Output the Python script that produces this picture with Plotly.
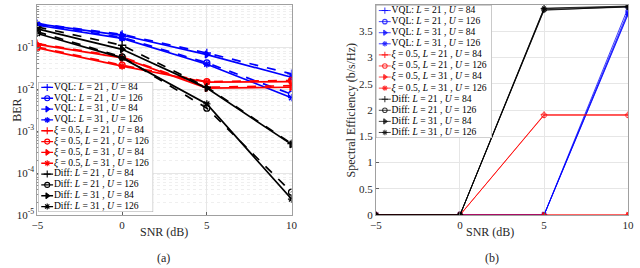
import plotly.graph_objects as go

snr = [-5, 0, 5, 10]

labels = [
    "VQL: <i>L</i> = 21 , <i>U</i> = 84",
    "VQL: <i>L</i> = 21 , <i>U</i> = 126",
    "VQL: <i>L</i> = 31 , <i>U</i> = 84",
    "VQL: <i>L</i> = 31 , <i>U</i> = 126",
    "<i>ξ</i> = 0.5, <i>L</i> = 21 , <i>U</i> = 84",
    "<i>ξ</i> = 0.5, <i>L</i> = 21 , <i>U</i> = 126",
    "<i>ξ</i> = 0.5, <i>L</i> = 31 , <i>U</i> = 84",
    "<i>ξ</i> = 0.5, <i>L</i> = 31 , <i>U</i> = 126",
    "Diff: <i>L</i> = 21 , <i>U</i> = 84",
    "Diff: <i>L</i> = 21 , <i>U</i> = 126",
    "Diff: <i>L</i> = 31 , <i>U</i> = 84",
    "Diff: <i>L</i> = 31 , <i>U</i> = 126",
]

# (a) BER
ber_vql = [
    [0.36, 0.20, 0.072, 0.023],
    [0.34, 0.17, 0.042, 0.0075],
    [0.355, 0.19, 0.066, 0.019],
    [0.33, 0.16, 0.039, 0.0062],
]
ber_xi = [
    [0.12, 0.058, 0.011, 0.012],
    [0.10, 0.037, 0.015, 0.016],
    [0.115, 0.055, 0.0105, 0.011],
    [0.095, 0.035, 0.0145, 0.015],
]
ber_diff = [
    [0.30, 0.11, 0.011, 0.0005],
    [0.23, 0.058, 0.0035, 0.000035],
    [0.27, 0.088, 0.0105, 0.00048],
    [0.21, 0.055, 0.0044, 0.000024],
]

# (b) Spectral efficiency
se_vql = [
    [0, 0, 0, 3.95],
    [0, 0, 0, 3.88],
    [0, 0, 0, 3.84],
    [0, 0, 0, 3.82],
]
se_xi = [
    [0, 0, 1.91, 1.91],
    [0, 0, 1.90, 1.90],
    [0, 0, 0, 0],
    [0, 0, 0, 0],
]
se_diff = [
    [0, 0, 3.93, 3.97],
    [0, 0, 3.91, 3.96],
    [0, 0, 3.90, 3.97],
    [0, 0, 3.94, 3.98],
]

colors = ["#0000ff"] * 4 + ["#ff0000"] * 4 + ["#000000"] * 4
symbols = ["cross-thin-open", "circle-open", "triangle-right", "asterisk-open"] * 3
dashes = ["dash", "dash", "solid", "solid"] * 3

FONT = "Liberation Serif"
TXT = "#262626"
GRID = "#e6e6e6"
FRAME = "#a0a0a0"

fig = go.Figure()

ber_all = ber_vql + ber_xi + ber_diff
se_all = se_vql + se_xi + se_diff

for i, yv in enumerate(ber_all):
    fig.add_trace(go.Scatter(
        x=snr, y=yv, mode="lines+markers", xaxis="x", yaxis="y",
        line=dict(color=colors[i], width=1.7, dash=dashes[i]),
        marker=dict(symbol=symbols[i], size=6, color=colors[i],
                    line=dict(color=colors[i], width=1.3)),
        showlegend=False, hoverinfo="skip"))

for i, yv in enumerate(se_all):
    fig.add_trace(go.Scatter(
        x=snr, y=yv, mode="lines+markers", xaxis="x2", yaxis="y2",
        opacity=0.75,
        line=dict(color=colors[i], width=1),
        marker=dict(symbol=symbols[i], size=5, color=colors[i],
                    line=dict(color=colors[i], width=1)),
        showlegend=False, hoverinfo="skip"))


def add_legend(xa, ya, line_w, msize, opacity):
    n = len(labels)
    fig.add_trace(go.Scatter(
        x=[0, 1, 1, 0, 0], y=[-0.5, -0.5, n - 0.5, n - 0.5, -0.5],
        mode="lines", fill="toself", fillcolor="white",
        line=dict(color=FRAME, width=1), xaxis=xa, yaxis=ya,
        showlegend=False, hoverinfo="skip"))
    for i in range(n):
        fig.add_trace(go.Scatter(
            x=[0.025, 0.128], y=[i, i], mode="lines",
            xaxis=xa, yaxis=ya, opacity=opacity,
            line=dict(color=colors[i], width=line_w),
            showlegend=False, hoverinfo="skip"))
        fig.add_trace(go.Scatter(
            x=[0.077], y=[i], mode="markers",
            xaxis=xa, yaxis=ya, opacity=opacity,
            marker=dict(symbol=symbols[i], size=msize, color=colors[i],
                        line=dict(color=colors[i], width=1.1)),
            showlegend=False, hoverinfo="skip"))
    fig.add_trace(go.Scatter(
        x=[0.135] * n, y=list(range(n)), mode="text", text=labels,
        textposition="middle right", xaxis=xa, yaxis=ya, cliponaxis=False,
        textfont=dict(family=FONT, size=9.6, color="#000000"),
        showlegend=False, hoverinfo="skip"))


add_legend("x3", "y3", 1.3, 5, 1.0)
add_legend("x4", "y4", 1.0, 4.5, 0.75)

W, H = 640, 268
top, bot = 5, 215
ph = bot - top


def px_x(p):
    return p / W


def px_y(p):
    return (bot - p) / ph


axis_common = dict(
    showline=True, mirror=True, linecolor=FRAME, linewidth=1,
    ticks="inside", ticklen=3, tickcolor="#606060",
    tickfont=dict(family=FONT, size=11, color=TXT),
    showgrid=True, gridcolor=GRID, zeroline=False,
)

exps = [-5, -4, -3, -2, -1, 0]
fig.update_layout(
    width=W, height=H, autosize=False,
    margin=dict(l=0, r=0, t=top, b=H - bot),
    paper_bgcolor="white", plot_bgcolor="white",
    xaxis=dict(domain=[px_x(32), px_x(291)], range=[-5, 10],
               tickvals=[-5, 0, 5, 10], anchor="y", **axis_common),
    yaxis=dict(domain=[0, 1], type="log", range=[-5, 0], anchor="x",
               tickvals=[10 ** e for e in exps],
               ticktext=["10<sup>%d</sup>" % e for e in exps],
               minor=dict(tickvals=[m * 10 ** e for e in range(-5, 0) for m in range(2, 10)],
                          showgrid=True, gridcolor="#efefef", griddash="dot",
                          ticks="inside", ticklen=2, tickcolor="#909090"),
               **axis_common),
    xaxis2=dict(domain=[px_x(377), px_x(634)], range=[-5, 10],
                tickvals=[-5, 0, 5, 10], anchor="y2", **axis_common),
    yaxis2=dict(domain=[0, 1], range=[0, 4], dtick=0.5, anchor="x2",
                tickformat="~g", **axis_common),
    xaxis3=dict(domain=[px_x(33), px_x(150)], range=[0, 1], visible=False,
                fixedrange=True, anchor="y3"),
    yaxis3=dict(domain=[px_y(212), px_y(82)], range=[11.5, -0.5],
                visible=False, anchor="x3", fixedrange=True),
    xaxis4=dict(domain=[px_x(377), px_x(495)], range=[0, 1], visible=False,
                fixedrange=True, anchor="y4"),
    yaxis4=dict(domain=[px_y(138), px_y(5)], range=[11.5, -0.5],
                visible=False, anchor="x4", fixedrange=True),
)

ann_font = dict(family=FONT, size=12, color=TXT)
annotations = [
    dict(text="SNR (dB)", x=px_x(161), y=px_y(232)),
    dict(text="SNR (dB)", x=px_x(493), y=px_y(232)),
    dict(text="(a)", x=px_x(160), y=px_y(258)),
    dict(text="(b)", x=px_x(495), y=px_y(258)),
    dict(text="BER", x=px_x(11), y=px_y(110), textangle=-90),
    dict(text="Spectral Efficiency (b/s/Hz)", x=px_x(352), y=px_y(110), textangle=-90),
]
for a in annotations:
    a.update(xref="paper", yref="paper", showarrow=False, font=ann_font,
             xanchor="center", yanchor="middle")
fig.update_layout(annotations=annotations)

fig.write_html(
    "out.html",
    config={"displayModeBar": False, "staticPlot": True},
    post_script="document.body.style.margin='0';document.body.style.overflow='hidden';",
)
